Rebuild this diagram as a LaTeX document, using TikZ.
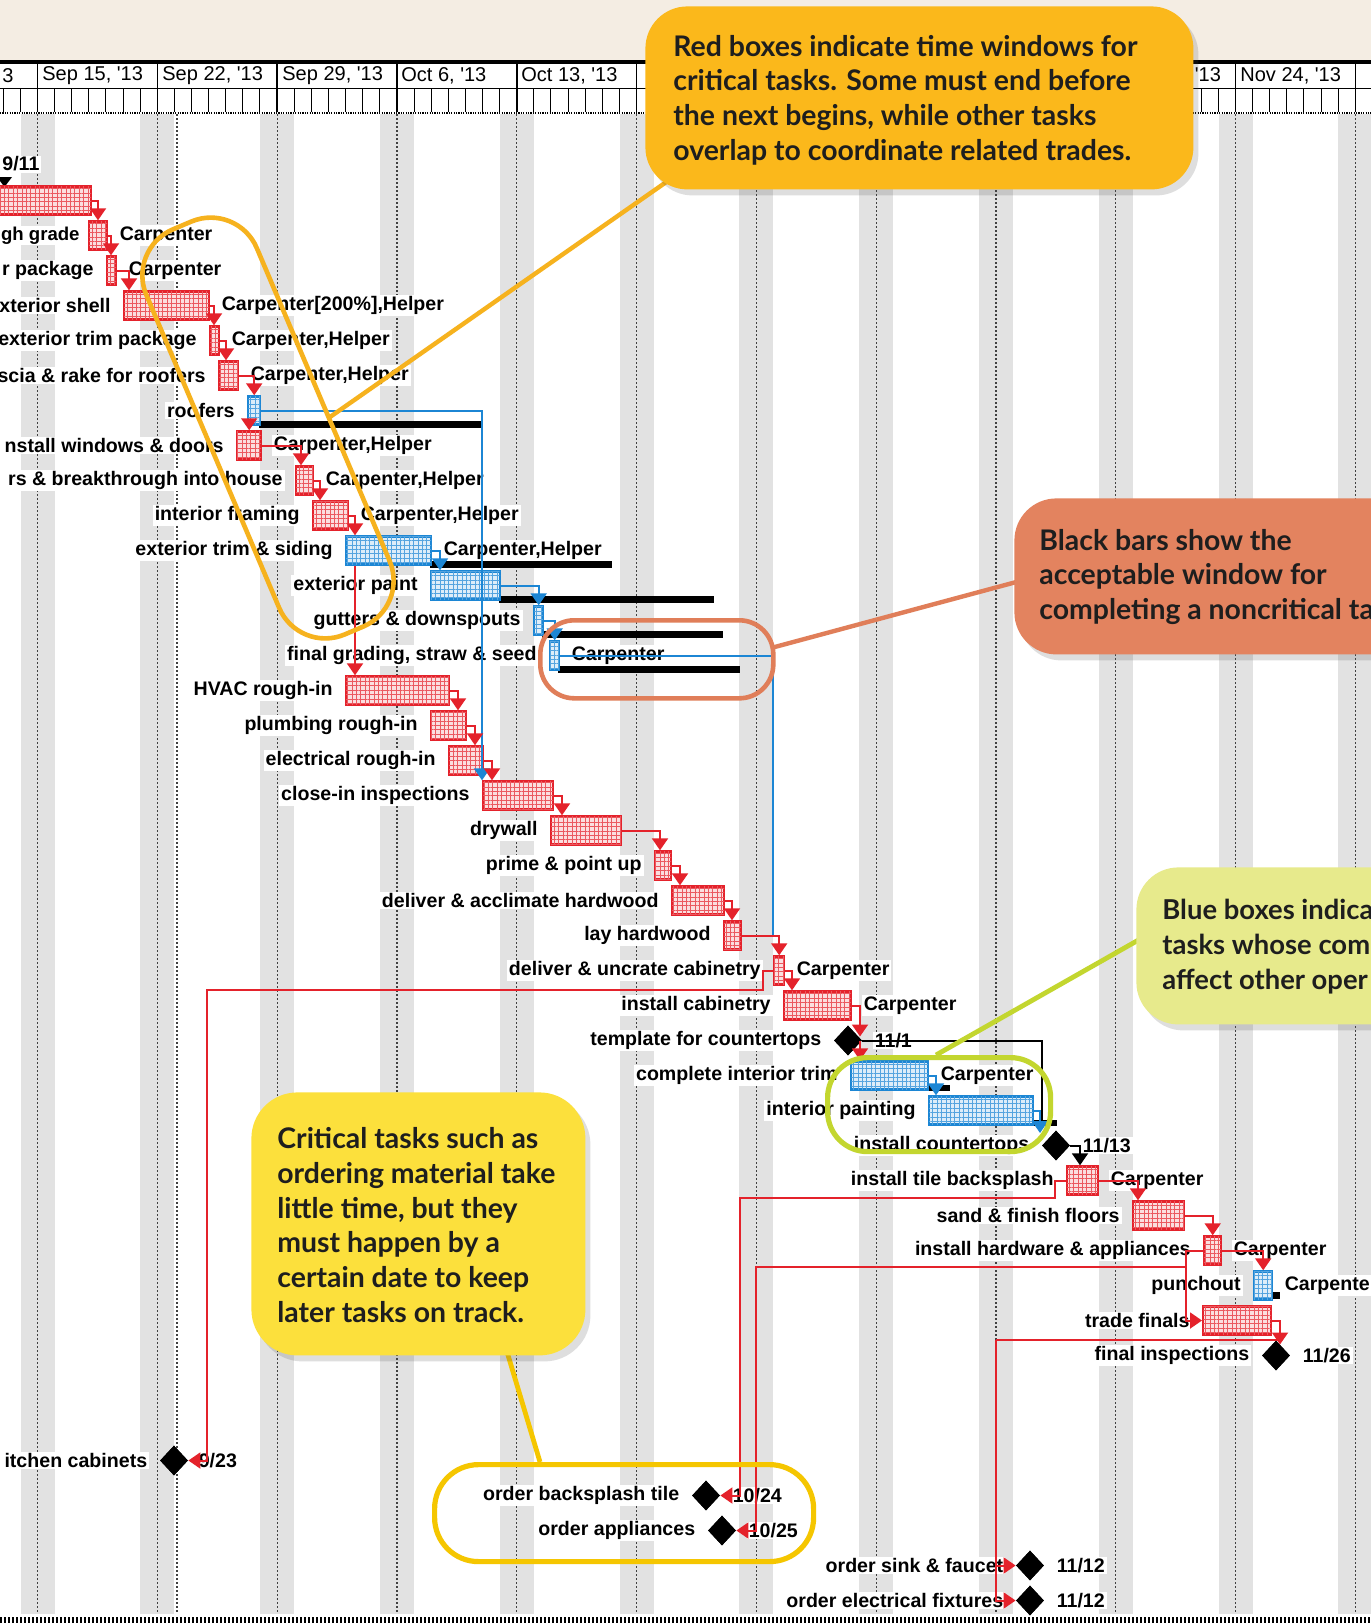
\documentclass[tikz,border=0pt]{standalone}
\usepackage{fontspec}
\setmainfont{Liberation Sans}
\newfontfamily\callfont{Lato}
\usetikzlibrary{arrows.meta,shapes.geometric,patterns.meta,shadows,calc}
\definecolor{tred}{HTML}{E4222B}
\definecolor{tblue}{HTML}{1C86D4}
\definecolor{beige}{HTML}{F4EDE3}
\definecolor{stripe}{HTML}{E2E2E2}
\definecolor{cOrange}{HTML}{FBB81B}
\definecolor{lOrange}{HTML}{F6B21E}
\definecolor{cSalmon}{HTML}{E3835F}
\definecolor{lSalmon}{HTML}{E07E59}
\definecolor{cYellow}{HTML}{FCE03C}
\definecolor{lYellow}{HTML}{F5C600}
\definecolor{cLime}{HTML}{E7EA8C}
\definecolor{lLime}{HTML}{C3D62F}
\definecolor{ctext}{HTML}{1E1E1E}
\newcommand{\lblfont}{\bfseries\fontsize{9.8}{11}\selectfont}
\newcommand{\yr}{\textquotesingle13}
\newcommand{\tbar}[5]{\node[#1, minimum width={((#4)-(#3))*0.5pt}] (#2) at (#3,#5) {};}
\tikzset{
 lbl/.style={font=\lblfont, fill=white, inner xsep=1pt, inner ysep=0.6pt},
 dt/.style={font=\fontsize{10}{12}\selectfont, anchor=west, inner sep=0pt},
 rbar/.style={draw=tred, line width=1.2pt, fill=tred!15,
   postaction={pattern={Hatch[angle=0,distance=2.2pt,line width=0.45pt]}, pattern color=tred!75},
   minimum height=14pt, inner sep=0pt, anchor=west},
 bbar/.style={draw=tblue, line width=1.2pt, fill=tblue!15,
   postaction={pattern={Hatch[angle=0,distance=2.2pt,line width=0.45pt]}, pattern color=tblue!75},
   minimum height=14pt, inner sep=0pt, anchor=west},
 ms/.style={diamond, fill=black, minimum width=14pt, minimum height=15pt, inner sep=0pt},
 rl/.style={draw=tred, line width=1pt, -{Triangle[width=8pt,length=6pt]}},
 rln/.style={draw=tred, line width=1pt},
 bl/.style={draw=tblue, line width=1pt, -{Triangle[width=8pt,length=6pt]}},
 bln/.style={draw=tblue, line width=1pt},
 kl/.style={draw=black, line width=1pt, -{Triangle[width=8pt,length=6pt]}},
 kln/.style={draw=black, line width=1pt},
 callbox/.style={rounded corners=21pt, inner sep=0pt, anchor=north west,
   drop shadow={shadow xshift=2.5pt, shadow yshift=-3pt, opacity=0.18, fill=black!70}},
 calltext/.style={font=\callfont\bfseries\fontsize{14.2}{17.35}\selectfont, text=ctext, align=left, anchor=west, inner sep=0pt},
 outl/.style={line width=2.3pt, inner sep=0pt, fill=none}
}
\begin{document}
\begin{tikzpicture}[x=0.5pt,y=-0.5pt]
\useasboundingbox (0,0) rectangle (1371,1623);
\fill[white] (0,0) rectangle (1371,1623);
\fill[beige] (0,0) rectangle (1371,61);
% weekend stripes and dotted week lines
\foreach \w in {0,...,11}{\pgfmathsetmacro\X{37.5+119.8*\w}
  \fill[stripe] (\X-17,114) rectangle (\X+17,1614);}
\foreach \w in {0,...,11}{\pgfmathsetmacro\X{37.5+119.8*\w}
  \draw[black!75, line width=0.6pt, dash pattern=on 1pt off 1pt] (\X,114) -- (\X,1614);}
\draw[black!75, line width=0.6pt, dash pattern=on 1pt off 1pt] (177,114) -- (177,1614);
% header
\fill[white] (0,62) rectangle (1371,113);
\foreach \k in {-4,...,80}{\pgfmathsetmacro\X{37.5+17.114*\k}
  \draw[line width=0.5pt] (\X,88) -- (\X,112);}
\foreach \w in {-1,...,11}{\pgfmathsetmacro\X{37.5+119.8*\w}
  \draw[line width=0.8pt] (\X,62) -- (\X,112);}
\draw[line width=0.5pt] (0,88) -- (1371,88);
\draw[line width=1pt, dash pattern=on 0.6pt off 0.6pt] (0,112.5) -- (1371,112.5);
\draw[line width=2pt] (0,62) -- (1371,62);
\node[dt] (dm) at (2,76) {3};
\node[dt] (d0) at (42,76) {Sep 15, \yr};
\node[dt] (d1) at (162,76) {Sep 22, \yr};
\node[dt] (d2) at (282,76) {Sep 29, \yr};
\node[dt] (d3) at (401,76) {Oct 6, \yr};
\node[dt] (d4) at (521,76) {Oct 13, \yr};
\node[dt] (d9) at (1120,76) {Nov 17, \yr};
\node[dt] (d10) at (1240,76) {Nov 24, \yr};
% bottom dotted rule
\draw[line width=3pt, dash pattern=on 1pt off 1pt] (0,1620) -- (1371,1620);

% ---------- bars ----------
\tbar{rbar}{b0}{-20}{90}{200.5}
\tbar{rbar}{b1}{88}{106}{235.5}
\tbar{rbar}{b2}{106}{115}{270.5}
\tbar{rbar}{b3}{123}{208}{305.5}
\tbar{rbar}{b4}{209}{218}{340.5}
\tbar{rbar}{b5}{218}{237}{375.5}
\tbar{bbar}{b6}{247}{259}{410.5}
\tbar{rbar}{b7}{236}{260}{445.5}
\tbar{rbar}{b8}{295}{312}{480.5}
\tbar{rbar}{b9}{312}{347}{515.5}
\tbar{bbar}{b10}{345}{430}{550.5}
\tbar{bbar}{b11}{430}{499}{585.5}
\tbar{bbar}{b12}{533}{542}{620.5}
\tbar{bbar}{b13}{549}{558}{655.5}
\tbar{rbar}{b14}{345}{448}{690.5}
\tbar{rbar}{b15}{430}{465}{725.5}
\tbar{rbar}{b16}{448}{482}{760.5}
\tbar{rbar}{b17}{482}{552}{795.5}
\tbar{rbar}{b18}{550}{620}{830.5}
\tbar{rbar}{b19}{654}{670}{865.5}
\tbar{rbar}{b20}{671}{723}{900.5}
\tbar{rbar}{b21}{723}{740}{935.5}
\tbar{rbar}{b22}{773}{783}{970.5}
\tbar{rbar}{b23}{783}{850}{1005.5}
\tbar{bbar}{b25}{850}{927}{1075.5}
\tbar{bbar}{b26}{928}{1032}{1110.5}
\tbar{rbar}{b28}{1066}{1097}{1180.5}
\tbar{rbar}{b29}{1132}{1183}{1215.5}
\tbar{rbar}{b30}{1203}{1220}{1250.5}
\tbar{bbar}{b31}{1253}{1271}{1285.5}
\tbar{rbar}{b32}{1202}{1270}{1320.5}
\node[ms] (m24) at (848,1040.5) {};
\node[ms] (m27) at (1056,1145.5) {};
\node[ms] (m33) at (1276,1355.5) {};
\node[ms] (m36) at (174,1460.5) {};
\node[ms] (m37) at (706,1495.5) {};
\node[ms] (m38) at (722,1530.5) {};
\node[ms] (m39) at (1030,1565.5) {};
\node[ms] (m40) at (1030,1600.5) {};

% ---------- task labels ----------
\begin{scope}[every node/.style={lbl, anchor=east}]
\node[font=\bfseries\fontsize{9.3}{11}\selectfont, inner xsep=0.5pt] (l1) at ([xshift=-3.5pt]b1.west) {gh grade};
\node (l2) at ([xshift=-5pt]b2.west) {r package};
\node (l3) at ([xshift=-5pt]b3.west) {xterior shell};
\node (l4) at ([xshift=-5pt]b4.west) {exterior trim package};
\node (l5) at ([xshift=-5pt]b5.west) {scia \& rake for roofers};
\node (l6) at ([xshift=-5pt]b6.west) {roofers};
\node (l7) at ([xshift=-5pt]b7.west) {nstall windows \& doors};
\node (l8) at ([xshift=-5pt]b8.west) {rs \& breakthrough into house};
\node (l9) at ([xshift=-5pt]b9.west) {interior framing};
\node (l10) at ([xshift=-5pt]b10.west) {exterior trim \& siding};
\node (l11) at ([xshift=-5pt]b11.west) {exterior paint};
\node (l12) at ([xshift=-5pt]b12.west) {gutters \& downspouts};
\node (l13) at ([xshift=-5pt]b13.west) {final grading, straw \& seed};
\node (l14) at ([xshift=-5pt]b14.west) {HVAC rough-in};
\node (l15) at ([xshift=-5pt]b15.west) {plumbing rough-in};
\node (l16) at ([xshift=-5pt]b16.west) {electrical rough-in};
\node (l17) at ([xshift=-5pt]b17.west) {close-in inspections};
\node (l18) at ([xshift=-5pt]b18.west) {drywall};
\node (l19) at ([xshift=-5pt]b19.west) {prime \& point up};
\node (l20) at ([xshift=-5pt]b20.west) {deliver \& acclimate hardwood};
\node (l21) at ([xshift=-5pt]b21.west) {lay hardwood};
\node (l22) at ([xshift=-5pt]b22.west) {deliver \& uncrate cabinetry};
\node (l23) at ([xshift=-5pt]b23.west) {install cabinetry};
\node (l24) at ([xshift=-5pt]m24.west) {template for countertops};
\node (l25) at ([xshift=-5pt]b25.west) {complete interior trim};
\node (l26) at ([xshift=-5pt]b26.west) {interior painting};
\node (l27) at ([xshift=-5pt]m27.west) {install countertops};
\node (l28) at ([xshift=-5pt]b28.west) {install tile backsplash};
\node (l29) at ([xshift=-5pt]b29.west) {sand \& finish floors};
\node (l30) at ([xshift=-5pt]b30.west) {install hardware \& appliances};
\node (l31) at ([xshift=-5pt]b31.west) {punchout};
\node (l32) at ([xshift=-5pt]b32.west) {trade finals};
\node (l33) at ([xshift=-5pt]m33.west) {final inspections};
\node (l36) at ([xshift=-5pt]m36.west) {itchen cabinets};
\node (l37) at ([xshift=-5pt]m37.west) {order backsplash tile};
\node (l38) at ([xshift=-5pt]m38.west) {order appliances};
\node (l39) at ([xshift=-5pt]m39.west) {order sink \& faucet};
\node (l40) at ([xshift=-5pt]m40.west) {order electrical fixtures};
\end{scope}
% ---------- resources / dates ----------
\begin{scope}[every node/.style={lbl, anchor=west}]
\node (r1) at ([xshift=4.5pt]b1.east) {Carpenter};
\node (r2) at ([xshift=4.5pt]b2.east) {Carpenter};
\node (r3) at ([xshift=4.5pt]b3.east) {Carpenter[200\%],Helper};
\node (r4) at ([xshift=4.5pt]b4.east) {Carpenter,Helper};
\node (r5) at ([xshift=4.5pt]b5.east) {Carpenter,Helper};
\node (r7) at ([xshift=4.5pt]b7.east) {Carpenter,Helper};
\node (r8) at ([xshift=4.5pt]b8.east) {Carpenter,Helper};
\node (r9) at ([xshift=4.5pt]b9.east) {Carpenter,Helper};
\node (r10) at ([xshift=4.5pt]b10.east) {Carpenter,Helper};
\node (r13) at ([xshift=4.5pt]b13.east) {Carpenter};
\node (r22) at ([xshift=4.5pt]b22.east) {Carpenter};
\node (r23) at ([xshift=4.5pt]b23.east) {Carpenter};
\node (r25) at ([xshift=4.5pt]b25.east) {Carpenter};
\node (r28) at ([xshift=4.5pt]b28.east) {Carpenter};
\node (r30) at ([xshift=4.5pt]b30.east) {Carpenter};
\node (r31) at ([xshift=4.5pt]b31.east) {Carpente};
\node (s24) at ([xshift=5pt]m24.east) {11/1};
\node (s27) at ([xshift=5pt]m27.east) {11/13};
\node (s33) at ([xshift=5pt]m33.east) {11/26};
\node (s36) at ([xshift=4pt]m36.east) {9/23};
\node (s37) at ([xshift=5pt]m37.east) {10/24};
\node (s38) at ([xshift=5pt]m38.east) {10/25};
\node (s39) at ([xshift=5pt]m39.east) {11/12};
\node (s40) at ([xshift=5pt]m40.east) {11/12};
\node (t911) at (0,164) {9/11};
\end{scope}
\fill (-3,177) -- (12,177) -- (4.5,187) -- cycle;

% ---------- slack bars ----------
\fill (259,421) rectangle (482,428);
\fill (430,561) rectangle (612,568);
\fill (499,596) rectangle (714,603);
\fill (542,631) rectangle (723,638);
\fill (558,666) rectangle (740,673);
\fill (927,1085) rectangle (950,1091);
\fill (1032,1120) rectangle (1057,1126);
\fill (1271,1292) rectangle (1280,1299);

% bars and milestones drawn again above labels and slack bars
\tbar{rbar}{b0}{-20}{90}{200.5}
\tbar{rbar}{b1}{88}{106}{235.5}
\tbar{rbar}{b2}{106}{115}{270.5}
\tbar{rbar}{b3}{123}{208}{305.5}
\tbar{rbar}{b4}{209}{218}{340.5}
\tbar{rbar}{b5}{218}{237}{375.5}
\tbar{bbar}{b6}{247}{259}{410.5}
\tbar{rbar}{b7}{236}{260}{445.5}
\tbar{rbar}{b8}{295}{312}{480.5}
\tbar{rbar}{b9}{312}{347}{515.5}
\tbar{bbar}{b10}{345}{430}{550.5}
\tbar{bbar}{b11}{430}{499}{585.5}
\tbar{bbar}{b12}{533}{542}{620.5}
\tbar{bbar}{b13}{549}{558}{655.5}
\tbar{rbar}{b14}{345}{448}{690.5}
\tbar{rbar}{b15}{430}{465}{725.5}
\tbar{rbar}{b16}{448}{482}{760.5}
\tbar{rbar}{b17}{482}{552}{795.5}
\tbar{rbar}{b18}{550}{620}{830.5}
\tbar{rbar}{b19}{654}{670}{865.5}
\tbar{rbar}{b20}{671}{723}{900.5}
\tbar{rbar}{b21}{723}{740}{935.5}
\tbar{rbar}{b22}{773}{783}{970.5}
\tbar{rbar}{b23}{783}{850}{1005.5}
\tbar{bbar}{b25}{850}{927}{1075.5}
\tbar{bbar}{b26}{928}{1032}{1110.5}
\tbar{rbar}{b28}{1066}{1097}{1180.5}
\tbar{rbar}{b29}{1132}{1183}{1215.5}
\tbar{rbar}{b30}{1203}{1220}{1250.5}
\tbar{bbar}{b31}{1253}{1271}{1285.5}
\tbar{rbar}{b32}{1202}{1270}{1320.5}
\node[ms] (m24) at (848,1040.5) {};
\node[ms] (m27) at (1056,1145.5) {};
\node[ms] (m33) at (1276,1355.5) {};
\node[ms] (m36) at (174,1460.5) {};
\node[ms] (m37) at (706,1495.5) {};
\node[ms] (m38) at (722,1530.5) {};
\node[ms] (m39) at (1030,1565.5) {};
\node[ms] (m40) at (1030,1600.5) {};

% ---------- links ----------
\draw[rl] (b0.east) -| ($(b1.north west)+(10,0)$);
\draw[rl] (b1.east) -| ($(b2.north west)+(5,0)$);
\draw[rl] (b2.east) -| ($(b3.north west)+(6,0)$);
\draw[rl] (b3.east) -| ($(b4.north west)+(5,0)$);
\draw[rl] (b4.east) -| ($(b5.north west)+(8,0)$);
\draw[rl] (b5.east) -| (b6.north);
\draw[rl] (b6.south -| b7.north) -- (b7.north);
\draw[bl] (b6.east) -| (b17.north west);
\draw[rl] (b7.east) -| ($(b8.north west)+(6,0)$);
\draw[rl] (b8.east) -| ($(b9.north west)+(8,0)$);
\draw[rl] (b9.east) -| ($(b10.north west)+(10,0)$);
\draw[rl] ($(b10.south west)+(10,0)$) -- ($(b14.north west)+(10,0)$);
\draw[bl] (b10.east) -| ($(b11.north west)+(10,0)$);
\draw[bl] (b11.east) -| (b12.north);
\draw[bl] (b12.east) -| (b13.north);
\coordinate (j21) at (773,935.5);
\draw[bln] (b13.east) -| (j21);
\draw[rl] (b14.east) -| ($(b15.north west)+(28,0)$);
\draw[rl] (b15.east) -| ($(b16.north west)+(27,0)$);
\draw[rl] (b16.east) -| ($(b17.north west)+(10,0)$);
\draw[rl] (b17.east) -| ($(b18.north west)+(12,0)$);
\draw[rl] (b18.east) -| ($(b19.north west)+(6,0)$);
\draw[rl] (b19.east) -| ($(b20.north west)+(9,0)$);
\draw[rl] (b20.east) -| ($(b21.north west)+(9,0)$);
\draw[rl] (b21.east) -| (b22.north);
\draw[rl] (b22.east) -| ($(b23.north west)+(9,0)$);
\draw[rl] (b23.east) -| ($(m24.center)+(12,-4)$);
\draw[rl] ($(m24.center)+(12,0)$) -- ($(b25.north west)+(10,0)$);
\coordinate (k1) at (1042,1124);
\draw[kln] (m24.east) -| (k1);
\draw[bl] (b25.east) -| ($(b26.north west)+(8,0)$);
\coordinate (k2) at (1040,1133);
\draw[bl] (b26.east) -| (k2);
\draw[kl] (m27.east) -| ($(b28.north west)+(14,0)$);
\draw[rl] (b28.east) -| ($(b29.north west)+(6,0)$);
\draw[rl] (b29.east) -| (b30.north);
\draw[rl] (b30.east) -| (b31.north);
\draw[rl] (b32.east) -| ($(m33.center)+(4,-11)$);
\coordinate (q1) at (1280,1340);
\coordinate (q2) at (996,1340);
\draw[rln] (q1) -- (q2);
\draw[rl] (q2) |- (m39.west);
\draw[rl] (q2) |- (m40.west);
\coordinate (u1) at (763,990);
\coordinate (u2) at (207,990);
\draw[rl] (b22.west) -| (u1) -- (u2) |- (m36.east);
\coordinate (v1) at (1055,1198);
\coordinate (v2) at (740,1198);
\draw[rl] (b28.west) -| (v1) -- (v2) |- (m37.east);
\coordinate (w1) at (1186,1267);
\coordinate (w2) at (756,1267);
\draw[rln] (b30.west) -| (w1);
\draw[rl] (w1) -- (w2) |- (m38.east);
\draw[rl] (w1) |- (b32.west);

% ---------- highlight outlines ----------
\node[outl, draw=lOrange, rounded corners=25pt, minimum width=220pt, minimum height=60pt, rotate=-67] (o1) at (268,428) {};
\node[outl, draw=lSalmon, rounded corners=17pt, minimum width=116.5pt, minimum height=39pt, anchor=north west] (o2) at (538,618) {};
\node[outl, draw=lYellow, line width=2.6pt, rounded corners=22pt, minimum width=189.5pt, minimum height=48.5pt, anchor=north west] (o3) at (432,1462) {};
\node[outl, draw=lLime, line width=2.6pt, rounded corners=20pt, minimum width=111.5pt, minimum height=47pt, anchor=north west] (o4) at (825,1055) {};

% ---------- pointers ----------
\coordinate (p1s) at (672,178); \coordinate (p1e) at (330,417);
\draw[lOrange, line width=2.2pt] (p1s) -- (p1e);
\coordinate (p2s) at (1020,581); \coordinate (p2e) at (771,648);
\draw[lSalmon, line width=2.2pt] (p2s) -- (p2e);
\coordinate (p3s) at (505,1345); \coordinate (p3e) at (540,1462);
\draw[lYellow, line width=2.4pt] (p3s) -- (p3e);
\coordinate (p4s) at (1142,938); \coordinate (p4e) at (936,1055);
\draw[lLime, line width=2.4pt] (p4s) -- (p4e);

% ---------- callouts ----------
\node[callbox, fill=cOrange, minimum width=274pt, minimum height=91.5pt] (c1) at (645,6) {};
\node[calltext] (c1t) at (673,100) {Red boxes indicate time windows for\\critical tasks. Some must end before\\the next begins, while other tasks\\overlap to coordinate related trades.};
\node[callbox, fill=cSalmon, minimum width=230pt, minimum height=78pt] (c2) at (1014,498) {};
\node[calltext] (c2t) at (1039,577) {Black bars show the\\acceptable window for\\completing a noncritical ta};
\node[callbox, fill=cYellow, rounded corners=23pt, minimum width=167pt, minimum height=131.5pt] (c3) at (251,1092) {};
\node[calltext] (c3t) at (277,1225) {Critical tasks such as\\ordering material take\\little time, but they\\must happen by a\\certain date to keep\\later tasks on track.};
\node[callbox, fill=cLime, minimum width=230pt, minimum height=78.5pt] (c4) at (1136,867) {};
\node[calltext, font=\callfont\bfseries\fontsize{13.7}{17.35}\selectfont] (c4t) at (1162,946.5) {Blue boxes indica\\tasks whose com\\affect other oper};
\end{tikzpicture}
\end{document}
